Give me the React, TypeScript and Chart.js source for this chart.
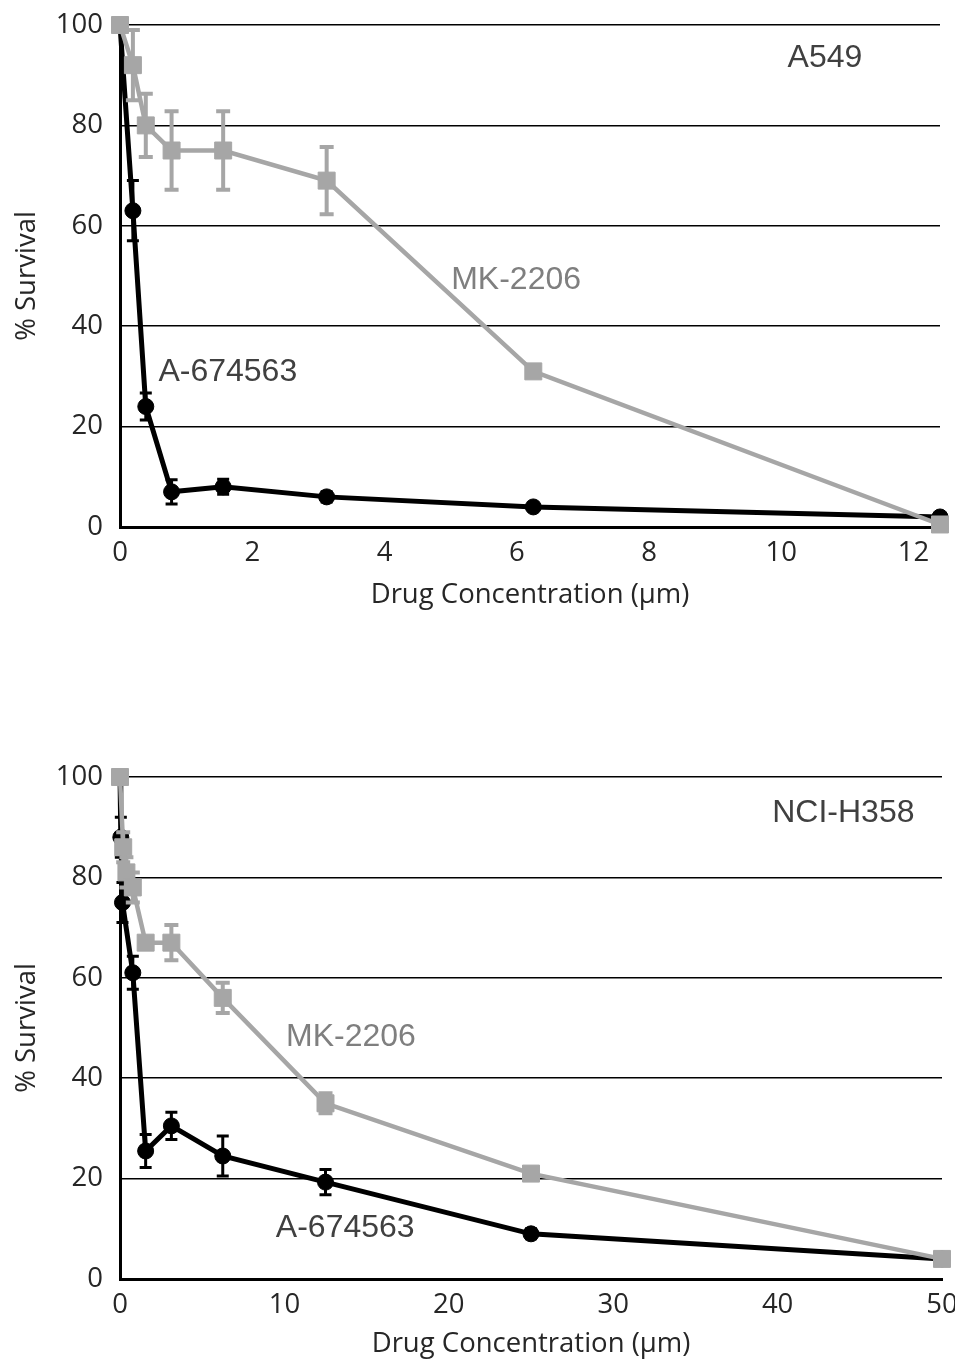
import React, { useEffect, useRef } from 'react';
import { Chart, registerables } from 'chart.js';
Chart.register(...registerables);

// ---------- Data: A549 ----------
const a549Conc = [0, 0.195, 0.39, 0.78, 1.56, 3.125, 6.25, 12.4];
const a549Mk = [100, 92, 80, 75, 75, 69, 31, 0.5];
const a549MkErr = [1, 7, 6.3, 7.8, 7.8, 6.7, 1, 0.5];
const a549A67 = [100, 63, 24, 7, 8, 6, 4, 2];
const a549A67Err = [1, 6, 2.7, 2.4, 1.5, 1, 0.5, 0.5];
const a549XTicks = [0, 2, 4, 6, 8, 10, 12];

// ---------- Data: NCI-H358 ----------
const h358MkConc = [0, 0.195, 0.39, 0.78, 1.56, 3.125, 6.25, 12.5, 25, 50];
const h358Mk = [100, 86, 81, 78, 67, 67, 56, 35, 21, 4];
const h358MkErr = [1, 3, 3, 3, 1, 3.5, 3, 2, 1, 1];
const h358A67Conc = [0, 0.05, 0.15, 0.78, 1.56, 3.125, 6.25, 12.5, 25, 50];
const h358A67 = [100, 88, 75, 61, 25.5, 30.5, 24.5, 19.3, 9, 4];
const h358A67Err = [0.5, 4, 4, 3.3, 3.3, 2.7, 4, 2.5, 1, 1];
const h358XTicks = [0, 10, 20, 30, 40, 50];

const yTicks = [0, 20, 40, 60, 80, 100];

const GRAY = '#a6a6a6';
const BLACK = '#000000';
const TEXT = '#262626';
const LABEL_DARK = '#404040';
const LABEL_GRAY = '#7f7f7f';

type Note = { text: string; x: number; y: number; color: string };

const a549Notes: Note[] = [
  { text: 'A549', x: 10.66, y: 93.4, color: LABEL_DARK },
  { text: 'MK-2206', x: 5.99, y: 49.2, color: LABEL_GRAY },
  { text: 'A-674563', x: 1.63, y: 30.9, color: LABEL_DARK },
];
const h358Notes: Note[] = [
  { text: 'NCI-H358', x: 44.0, y: 92.8, color: LABEL_DARK },
  { text: 'MK-2206', x: 14.05, y: 48.2, color: LABEL_GRAY },
  { text: 'A-674563', x: 13.7, y: 10.2, color: LABEL_DARK },
];

const tickFont = { family: '"Open Sans"', size: 27.5 };

const errorBarPlugin = {
  id: 'errorBars',
  beforeDatasetDraw(chart: any, args: any) {
    const ds: any = chart.data.datasets[args.index];
    const errs: number[] = ds.errors;
    if (!errs) return;
    const ctx = chart.ctx;
    const ys = chart.scales.y;
    ctx.save();
    ctx.strokeStyle = ds.borderColor;
    ctx.lineWidth = ds.errWidth;
    ctx.lineCap = 'butt';
    args.meta.data.forEach((pt: any, i: number) => {
      const v = ds.data[i].y;
      const e = errs[i];
      const yt = ys.getPixelForValue(v + e);
      const yb = ys.getPixelForValue(v - e);
      const x = pt.x;
      const c = ds.capHalf;
      ctx.beginPath();
      ctx.moveTo(x, yt);
      ctx.lineTo(x, yb);
      ctx.moveTo(x - c, yt);
      ctx.lineTo(x + c, yt);
      ctx.moveTo(x - c, yb);
      ctx.lineTo(x + c, yb);
      ctx.stroke();
    });
    ctx.restore();
  },
};

function makeNotesPlugin(notes: Note[]) {
  return {
    id: 'notes',
    afterDraw(chart: any) {
      const ctx = chart.ctx;
      const xs = chart.scales.x;
      const ys = chart.scales.y;
      ctx.save();
      ctx.font = '32px "Liberation Sans", Arial, sans-serif';
      ctx.textAlign = 'center';
      ctx.textBaseline = 'middle';
      notes.forEach((n) => {
        ctx.fillStyle = n.color;
        ctx.fillText(n.text, xs.getPixelForValue(n.x), ys.getPixelForValue(n.y));
      });
      ctx.restore();
    },
  };
}

type Panel = {
  mkX: number[]; mkY: number[]; mkErr: number[];
  aX: number[]; aY: number[]; aErr: number[];
  xMax: number; xTicks: number[]; notes: Note[];
  padTop: number; padRight: number; xAxisH: number; titleBottom: number;
};

function buildConfig(p: Panel): any {
  return {
    type: 'line',
    data: {
      datasets: [
        {
          label: 'MK-2206',
          data: p.mkX.map((x, i) => ({ x, y: p.mkY[i] })),
          errors: p.mkErr,
          errWidth: 4,
          capHalf: 7,
          borderColor: GRAY,
          backgroundColor: GRAY,
          borderWidth: 4.5,
          pointStyle: 'rect',
          pointRadius: 12,
          pointBorderWidth: 1,
          pointBorderColor: GRAY,
          pointBackgroundColor: GRAY,
          tension: 0,
          clip: false,
        },
        {
          label: 'A-674563',
          data: p.aX.map((x, i) => ({ x, y: p.aY[i] })),
          errors: p.aErr,
          errWidth: 3,
          capHalf: 6,
          borderColor: BLACK,
          backgroundColor: BLACK,
          borderWidth: 5,
          pointStyle: 'circle',
          pointRadius: 8,
          pointBorderWidth: 1,
          pointBorderColor: BLACK,
          pointBackgroundColor: BLACK,
          tension: 0,
          clip: false,
        },
      ],
    },
    options: {
      responsive: false,
      animation: false,
      devicePixelRatio: 1,
      layout: { padding: { top: p.padTop, right: p.padRight, left: 0, bottom: 0 } },
      plugins: { legend: { display: false }, tooltip: { enabled: false } },
      scales: {
        x: {
          type: 'linear',
          min: 0,
          max: p.xMax,
          afterBuildTicks: (s: any) => { s.ticks = p.xTicks.map((v) => ({ value: v })); },
          afterFit: (s: any) => {
            s.height = p.xAxisH;
            s.paddingLeft = 0;
            s.paddingRight = 0;
          },
          grid: { display: true, color: 'rgba(0,0,0,0)', drawTicks: false },
          border: { display: true, color: BLACK, width: 3 },
          ticks: { font: tickFont, color: TEXT, padding: 10, maxRotation: 0, autoSkip: false },
          title: {
            display: true,
            text: 'Drug Concentration (μm)',
            font: tickFont,
            color: TEXT,
            padding: { top: 0, bottom: p.titleBottom },
          },
        },
        y: {
          type: 'linear',
          min: 0,
          max: 100,
          afterBuildTicks: (s: any) => { s.ticks = yTicks.map((v) => ({ value: v })); },
          afterFit: (s: any) => {
            s.width = 120;
            s.paddingTop = 0;
            s.paddingBottom = 0;
          },
          grid: { color: BLACK, lineWidth: 1.5, drawTicks: false },
          border: { display: true, color: BLACK, width: 3 },
          ticks: { font: tickFont, color: TEXT, padding: 17 },
          title: {
            display: true,
            text: '% Survival',
            font: tickFont,
            color: TEXT,
            padding: { top: 11, bottom: 0 },
          },
        },
      },
    },
    plugins: [errorBarPlugin, makeNotesPlugin(p.notes)],
  };
}

function SurvivalChart({ panel, height }: { panel: Panel; height: number }) {
  const ref = useRef<HTMLCanvasElement>(null);
  useEffect(() => {
    const chart = new Chart(ref.current as HTMLCanvasElement, buildConfig(panel));
    return () => chart.destroy();
  }, []);
  return (
    <canvas
      ref={ref}
      width={955}
      height={height}
      style={{ display: 'block', width: 955, height }}
    />
  );
}

const topPanel: Panel = {
  mkX: a549Conc, mkY: a549Mk, mkErr: a549MkErr,
  aX: a549Conc, aY: a549A67, aErr: a549A67Err,
  xMax: 12.4, xTicks: a549XTicks, notes: a549Notes,
  padTop: 25, padRight: 15, xAxisH: 93, titleBottom: 8,
};

const bottomPanel: Panel = {
  mkX: h358MkConc, mkY: h358Mk, mkErr: h358MkErr,
  aX: h358A67Conc, aY: h358A67, aErr: h358A67Err,
  xMax: 50, xTicks: h358XTicks, notes: h358Notes,
  padTop: 27, padRight: 12, xAxisH: 82, titleBottom: 0,
};

export default function App() {
  return (
    <div style={{ position: 'absolute', left: 0, top: 0, width: 955, height: 1361, background: '#fff', overflow: 'hidden' }}>
      <div style={{ position: 'absolute', left: 0, top: 0 }}>
        <SurvivalChart panel={topPanel} height={620} />
      </div>
      <div style={{ position: 'absolute', left: 0, top: 750 }}>
        <SurvivalChart panel={bottomPanel} height={611} />
      </div>
    </div>
  );
}
